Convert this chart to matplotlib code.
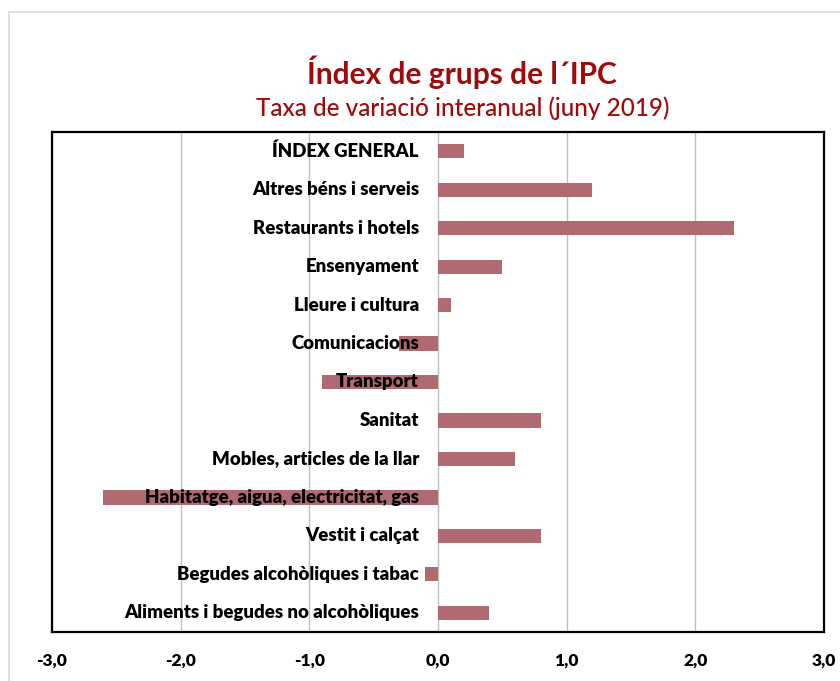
import matplotlib
matplotlib.use("Agg")
import matplotlib.pyplot as plt
from matplotlib.patches import Rectangle

categories = [
    "Aliments i begudes no alcohòliques",
    "Begudes alcohòliques i tabac",
    "Vestit i calçat",
    "Habitatge, aigua, electricitat, gas",
    "Mobles, articles de la llar",
    "Sanitat",
    "Transport",
    "Comunicacions",
    "Lleure i cultura",
    "Ensenyament",
    "Restaurants i hotels",
    "Altres béns i serveis",
    "ÍNDEX GENERAL",
]
values = [0.4, -0.1, 0.8, -2.6, 0.6, 0.8, -0.9, -0.3, 0.1, 0.5, 2.3, 1.2, 0.2]
xticks = [-3, -2, -1, 0, 1, 2, 3]
xtick_labels = ["-3,0", "-2,0", "-1,0", "0,0", "1,0", "2,0", "3,0"]

FONT = ["Lato", "DejaVu Sans"]
plt.rcParams["font.family"] = FONT

fig = plt.figure(figsize=(8.4, 6.81), dpi=100)
fig.patch.set_facecolor("white")

# outer chart-area border
fig.patches.append(Rectangle((9 / 840, -0.05), 1.2, 1 - 12 / 681 + 0.05,
                             transform=fig.transFigure, fill=False,
                             edgecolor="#d9d9d9", linewidth=1.2, zorder=0))

ax = fig.add_axes([52 / 840, 1 - 632 / 681, (824 - 52) / 840, (632 - 132) / 681])

y = list(range(len(categories)))
ax.barh(y, values, height=0.37, color="#b06a72", zorder=2)

for i, name in enumerate(categories):
    ax.annotate(name, xy=(0, i), xytext=(-19, 0), textcoords="offset pixels",
                ha="right", va="center", fontsize=13.4, fontweight="heavy",
                color="black", zorder=3)

ax.set_xlim(-3, 3)
ax.set_ylim(-0.5, len(categories) - 0.5)
ax.set_xticks(xticks)
ax.set_xticklabels(xtick_labels, fontsize=12.5, fontweight="heavy")
ax.tick_params(axis="x", length=0, pad=15)
ax.set_yticks([])
ax.grid(axis="x", color="#bfbfbf", linewidth=1, zorder=1)
for s in ax.spines.values():
    s.set_color("black")
    s.set_linewidth(1.6)

fig.text(462 / 840, 1 - 72 / 681, "Índex de grups de l´IPC", ha="center", va="center",
         fontsize=21.5, fontweight="bold", color="#a00a0a")
fig.text(463 / 840, 1 - 108 / 681, "Taxa de variació interanual (juny 2019)", ha="center",
         va="center", fontsize=17.5, fontweight="medium", color="#a00a0a")

fig.savefig("out.png", dpi=100, facecolor="white")
